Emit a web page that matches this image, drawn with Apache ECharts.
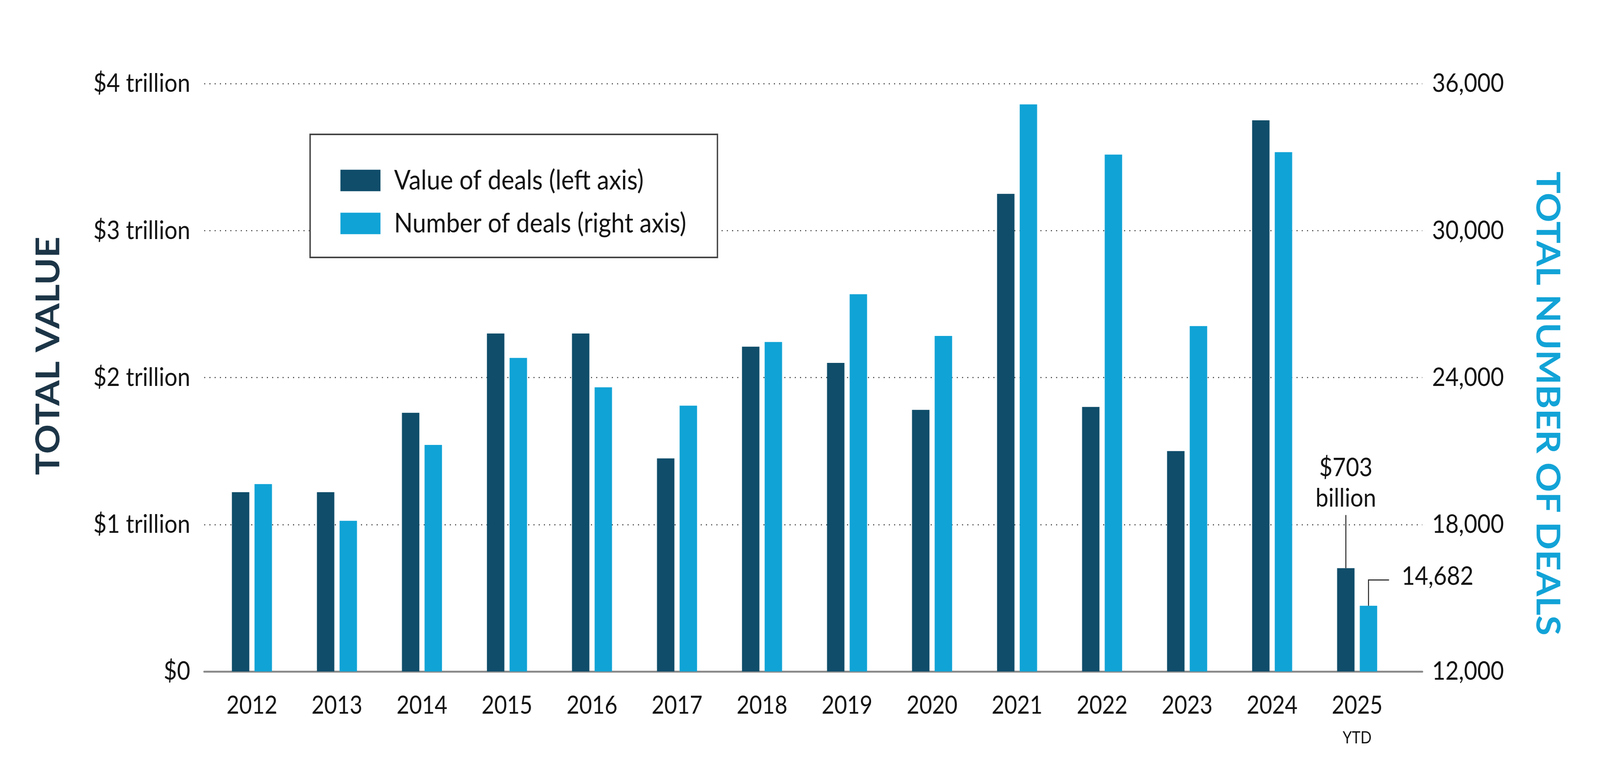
<!DOCTYPE html>
<html>
<head>
<meta charset="utf-8">
<script src="https://cdn.jsdelivr.net/npm/echarts@6/dist/echarts.min.js"></script>
<style>
html,body{margin:0;padding:0;background:#ffffff;overflow:hidden;}
#chart{width:4592px;height:1984px;transform-origin:0 0;}
</style>
</head>
<body>
<div id="chart"></div>
<script>
// ---- data ----
const years = ['2012','2013','2014','2015','2016','2017','2018','2019','2020','2021','2022','2023','2024','2025'];
const yearNote = 'YTD';
// value of deals, trillions of US dollars (left axis)
const valueOfDeals = [1.22, 1.22, 1.76, 2.30, 2.30, 1.45, 2.21, 2.10, 1.78, 3.25, 1.80, 1.50, 3.75, 0.703];
// number of deals (right axis)
const numberOfDeals = [19650, 18150, 21250, 24800, 23600, 22850, 25450, 27400, 25700, 35150, 33100, 26100, 33200, 14682];
const leftTickLabels = ['$0', '$1 trillion', '$2 trillion', '$3 trillion', '$4 trillion'];
const rightTickLabels = ['12,000', '18,000', '24,000', '30,000', '36,000'];
const seriesNames = ['Value of deals (left axis)', 'Number of deals (right axis)'];
const valueNote = ['$703', 'billion'];
const countNote = '14,682';

const DARK = '#0f4d6a';
const LIGHT = '#10a3d6';
const FONT = 'Lato';

// the browser window may be narrower than the 4592px design: fit horizontally
const el = document.getElementById('chart');
const sx = Math.min(1, (window.innerWidth || 4592) / 4592);
el.style.transform = 'scaleX(' + sx + ')';

const chart = echarts.init(el, null, {renderer: 'canvas', width: 4592, height: 1984});

const baseGraphic = [
  {
    type: 'rect', z: 3,
    shape: {x: 890, y: 344, width: 1169, height: 315},
    style: {fill: '#ffffff', stroke: '#444444', lineWidth: 4}
  },
  {
    type: 'text', x: 140, y: 911, rotation: Math.PI / 2,
    style: {text: 'TOTAL VALUE', fill: '#1c3547', font: 'bold 94px Lato', align: 'center', verticalAlign: 'middle'}
  },
  {
    type: 'text', x: 4440, y: 1033, rotation: -Math.PI / 2,
    style: {text: 'TOTAL NUMBER OF DEALS', fill: '#12a3d7', font: 'bold 94px Lato', align: 'center', verticalAlign: 'middle'}
  }
];

const legendBase = {
  left: 972, orient: 'vertical',
  itemWidth: 115, itemHeight: 55,
  icon: 'rect',
  selectedMode: false,
  textStyle: {fontFamily: FONT, fontSize: 70, color: '#111111', padding: [0, 0, 0, 34], lineHeight: 55}
};

const option = {
  backgroundColor: '#ffffff',
  animation: false,
  textStyle: {fontFamily: FONT},
  grid: [
    {left: 586, right: 510, top: 214, bottom: 265},
    {left: 601, right: 575, top: 214, bottom: 265}
  ],
  legend: [
    Object.assign({}, legendBase, {top: 422, data: [seriesNames[0]]}),
    Object.assign({}, legendBase, {top: 532, data: [seriesNames[1]]})
  ],
  xAxis: [
    {
      gridIndex: 0, type: 'category', data: [''],
      axisLine: {show: true, lineStyle: {color: '#8c8c8c', width: 5}},
      axisTick: {show: false}, axisLabel: {show: false}, splitLine: {show: false}
    },
    {
      gridIndex: 1, type: 'category', data: years,
      axisLine: {show: false}, axisTick: {show: false},
      axisLabel: {interval: 0, margin: 56, fontFamily: FONT, fontSize: 63, color: '#111111'}
    }
  ],
  yAxis: [
    {
      gridIndex: 0, type: 'value', min: 0, max: 4, interval: 1, position: 'left',
      axisLine: {show: false}, axisTick: {show: false},
      axisLabel: {
        margin: 40, fontFamily: FONT, fontSize: 66, color: '#111111',
        formatter: function (v) { return leftTickLabels[Math.round(v)]; }
      },
      splitLine: {show: true, lineStyle: {color: '#4a4a4a', width: 3, type: [3, 12]}}
    },
    {
      gridIndex: 0, type: 'value', min: 12000, max: 36000, interval: 6000, position: 'right',
      axisLine: {show: false}, axisTick: {show: false},
      axisLabel: {
        margin: 28, fontFamily: FONT, fontSize: 66, color: '#111111',
        formatter: function (v) { return rightTickLabels[Math.round((v - 12000) / 6000)]; }
      },
      splitLine: {show: false}
    },
    {gridIndex: 1, type: 'value', min: 0, max: 4, interval: 1, show: false, splitLine: {show: false}},
    {gridIndex: 1, type: 'value', min: 12000, max: 36000, interval: 6000, show: false, splitLine: {show: false}}
  ],
  series: [
    {
      name: seriesNames[0], type: 'bar', xAxisIndex: 1, yAxisIndex: 2,
      data: valueOfDeals, barWidth: 50, barGap: '30%',
      itemStyle: {color: DARK}, z: 5
    },
    {
      name: seriesNames[1], type: 'bar', xAxisIndex: 1, yAxisIndex: 3,
      data: numberOfDeals, barWidth: 50, barGap: '30%',
      itemStyle: {color: LIGHT}, z: 5
    }
  ],
  graphic: baseGraphic
};
chart.setOption(option);

// ---- annotations for the last (2025 YTD) pair, placed from the bars' own layout ----
function barTop(seriesIndex, idx) {
  const data = chart.getModel().getSeriesByIndex(seriesIndex).getData();
  const l = data.getItemLayout(idx);
  return {cx: l.x + l.width / 2, top: Math.min(l.y, l.y + l.height)};
}
const last = years.length - 1;
const a = barTop(0, last);
const b = barTop(1, last);
const catX = a.cx + (b.cx - a.cx) / 2;
const baseY = 1984 - 265;
chart.setOption({
  graphic: baseGraphic.concat([
    {type: 'line', z: 6, shape: {x1: a.cx, y1: a.top, x2: a.cx, y2: a.top - 136}, style: {stroke: '#333333', lineWidth: 3}},
    {type: 'text', z: 6, x: a.cx, y: a.top - 140,
     style: {text: valueNote.join('\n'), fill: '#111111', font: '66px Lato', lineHeight: 78, align: 'center', verticalAlign: 'bottom'}},
    {type: 'polyline', z: 6, shape: {points: [[b.cx, b.top], [b.cx, b.top - 66], [b.cx + 59, b.top - 66]]}, style: {stroke: '#333333', lineWidth: 3, fill: null}},
    {type: 'text', z: 6, x: b.cx + 95, y: b.top - 75,
     style: {text: countNote, fill: '#111111', font: '66px Lato', align: 'left', verticalAlign: 'middle'}},
    {type: 'text', z: 6, x: catX, y: baseY + 170,
     style: {text: yearNote, fill: '#111111', font: '42px Lato', align: 'center', verticalAlign: 'middle'}}
  ])
});
</script>
</body>
</html>
